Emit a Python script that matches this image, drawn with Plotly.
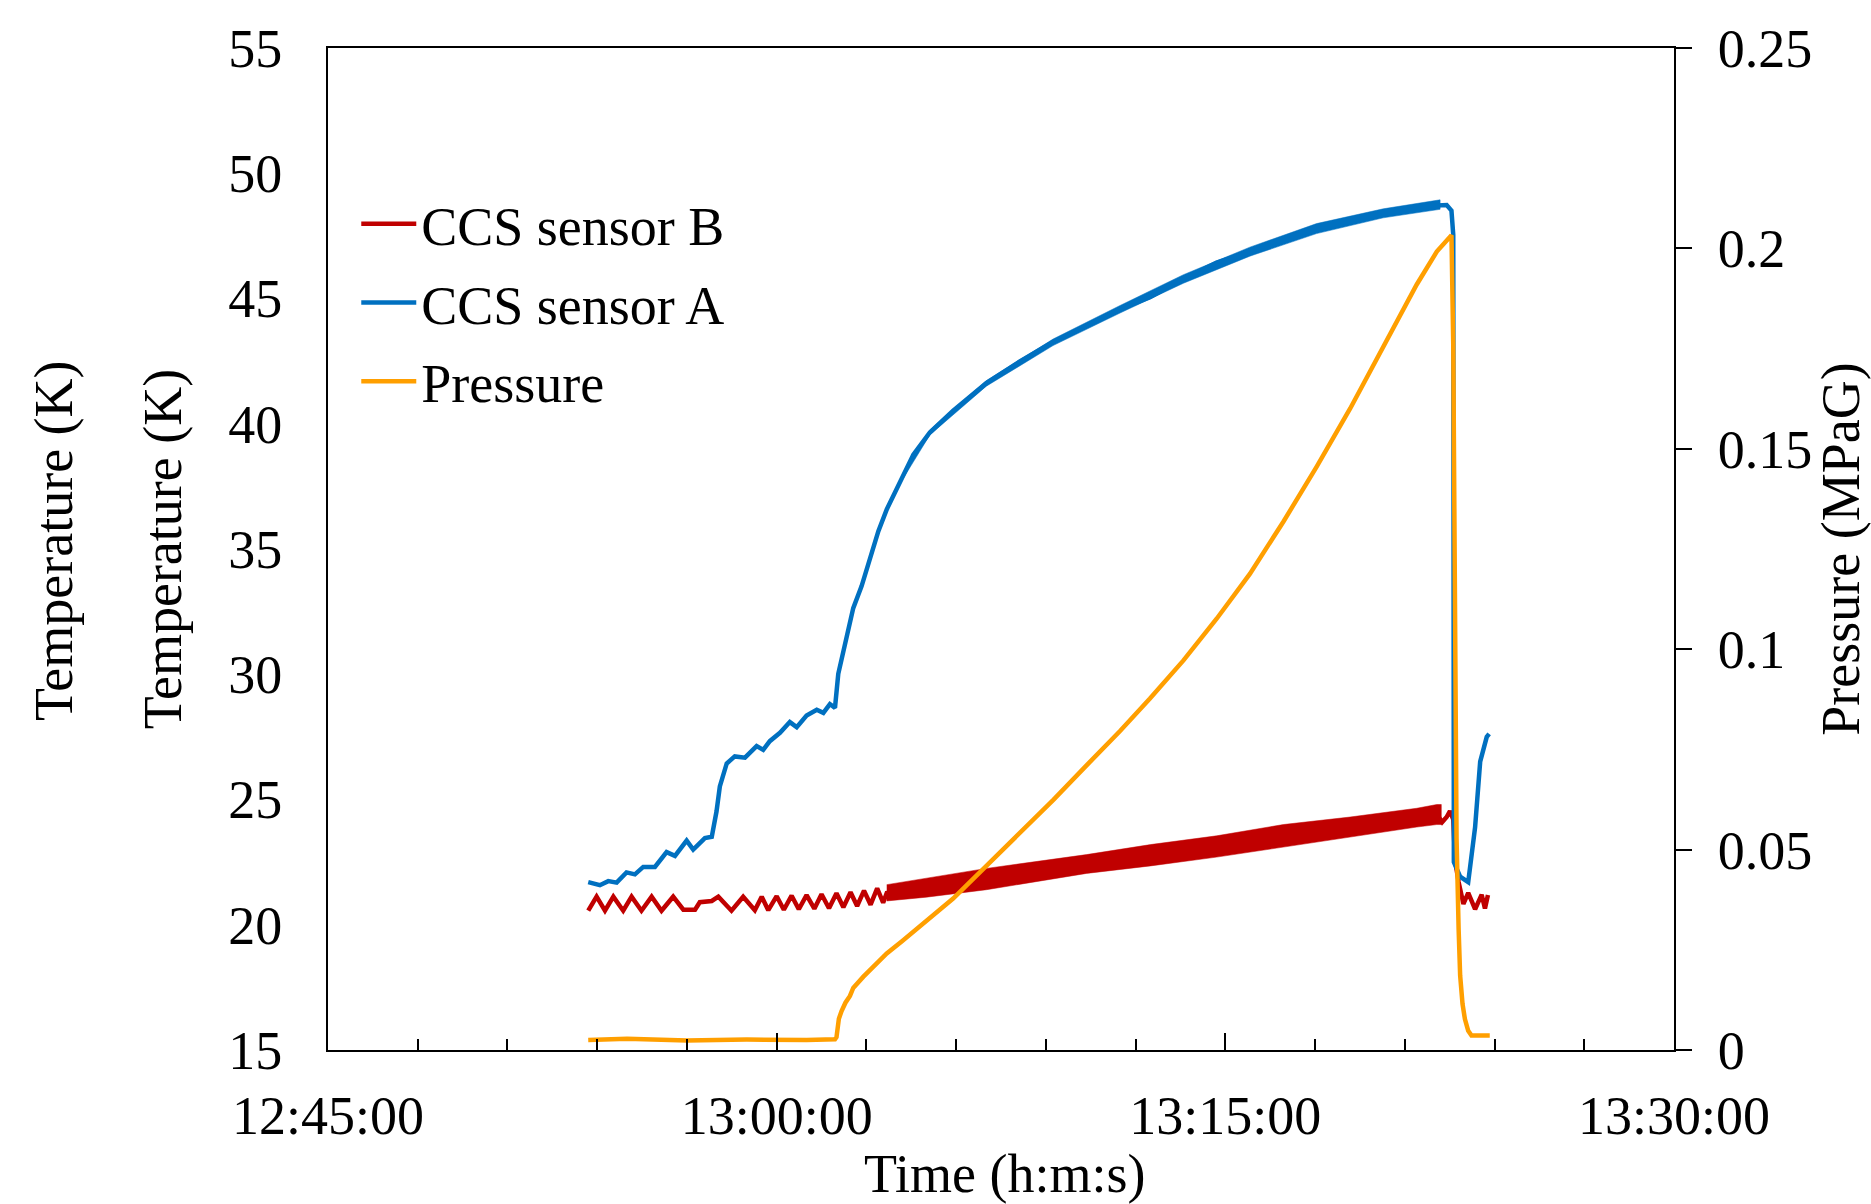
import plotly.graph_objects as go
import pandas as pd

BASE = pd.Timestamp("2021-01-01 12:45:00")
END = BASE + pd.Timedelta(minutes=45)


def to_time(mins):
    return [BASE + pd.Timedelta(minutes=m) for m in mins]


# ---------------- CCS sensor B (red), minutes after 12:45:00 ----------------
b_min = [8.70, 8.98, 9.26, 9.54, 9.87, 10.15, 10.48, 10.82, 11.15, 11.54,
         11.88, 12.27, 12.43, 12.83, 13.05, 13.49, 13.88, 14.27, 14.50, 14.72,
         15.00, 15.24, 15.50, 15.74, 16.00, 16.26, 16.50, 16.75, 17.00, 17.23,
         17.47, 17.69, 17.92, 18.14, 18.36, 18.56,
         18.68, 20.00, 22.02, 25.36, 27.50, 29.71, 31.94, 34.17, 36.40, 37.07,
         37.25, 37.40, 37.51, 37.62, 37.68, 37.80, 37.96, 38.12, 38.35, 38.57,
         38.68, 38.78]
b_temp = [20.56, 21.12, 20.56, 21.12, 20.56, 21.12, 20.56, 21.12, 20.56, 21.12,
          20.60, 20.60, 20.90, 20.95, 21.12, 20.56, 21.12, 20.58, 21.12, 20.58,
          21.14, 20.60, 21.16, 20.62, 21.18, 20.64, 21.22, 20.66, 21.26, 20.70,
          21.30, 20.75, 21.36, 20.80, 21.45, 20.88,
          21.27, 21.47, 21.82, 22.42, 22.77, 23.12, 23.55, 23.90, 24.27, 24.40,
          24.10, 24.30, 24.54, 24.20, 22.57, 21.70, 20.83, 21.27, 20.62, 21.20,
          20.65, 21.19]
# dense oscillation envelope of sensor B
b_band_min = [18.68, 20.00, 22.02, 25.36, 27.50, 29.71, 31.94, 34.17, 36.40, 37.07, 37.22]
b_band_hi = [21.60, 21.85, 22.25, 22.80, 23.20, 23.55, 24.00, 24.30, 24.65, 24.80, 24.80]
b_band_lo = [20.95, 21.10, 21.40, 22.05, 22.35, 22.70, 23.10, 23.50, 23.90, 24.00, 24.00]

# ---------------- CCS sensor A (blue) ----------------
a_min = [8.70, 9.09, 9.37, 9.65, 9.98, 10.26, 10.54, 10.93, 11.32, 11.60,
         11.99, 12.21, 12.60, 12.83, 12.99, 13.10, 13.33, 13.60, 13.94, 14.33,
         14.55, 14.77, 15.11, 15.44, 15.67, 16.00, 16.34, 16.56, 16.78, 16.95,
         17.06, 17.23, 17.56, 17.84, 18.12, 18.40, 18.68, 19.12, 19.57, 20.12,
         20.90, 22.01, 23.13, 24.24, 25.36, 26.48, 27.48, 28.60, 29.71, 30.82,
         31.94, 33.05, 34.17, 35.28, 36.40, 37.18, 37.40, 37.56, 37.62, 37.64,
         37.85, 38.12, 38.35, 38.52, 38.74, 38.82]
a_temp = [21.70, 21.58, 21.74, 21.68, 22.09, 22.01, 22.31, 22.31, 22.90, 22.75,
          23.36, 23.00, 23.46, 23.51, 24.53, 25.52, 26.44, 26.72, 26.67, 27.13,
          26.98, 27.33, 27.66, 28.09, 27.89, 28.35, 28.58, 28.46, 28.81, 28.66,
          30.02, 30.89, 32.64, 33.52, 34.61, 35.71, 36.58, 37.68, 38.77, 39.65,
          40.52, 41.62, 42.49, 43.26, 43.91, 44.57, 45.05, 45.78, 46.43, 46.87,
          47.35, 47.79, 48.18, 48.40, 48.67, 48.75, 48.73, 48.51, 47.53, 22.50,
          21.92, 21.70, 23.89, 26.51, 27.50, 27.62]
a_band_min = [19.12, 20.12, 22.01, 24.24, 26.48, 28.60, 30.82, 33.05, 35.28, 37.18]
a_band_hi = [37.76, 39.75, 41.72, 43.38, 44.72, 45.95, 47.05, 47.99, 48.58, 48.94]
a_band_lo = [37.60, 39.55, 41.50, 43.12, 44.42, 45.61, 46.69, 47.59, 48.22, 48.56]

# ---------------- Pressure (orange), MPaG ----------------
p_min = [8.70, 10.00, 12.00, 14.00, 16.00, 16.95, 17.00, 17.03, 17.08, 17.17,
         17.30, 17.45, 17.56, 17.90, 18.30, 18.68, 19.20, 19.79, 20.90, 22.02,
         23.13, 24.25, 25.36, 26.48, 27.48, 28.60, 29.71, 30.82, 31.94, 33.05,
         34.17, 35.28, 36.40, 37.07, 37.56, 37.62, 37.68, 37.73, 37.80, 37.85,
         37.93, 38.01, 38.12, 38.23, 38.84]
p_val = [0.0025, 0.0028, 0.0024, 0.0026, 0.0025, 0.0027, 0.0032, 0.0055, 0.0078, 0.0097,
         0.0118, 0.0135, 0.0155, 0.0183, 0.0212, 0.0241, 0.0272, 0.0309, 0.0378, 0.0460,
         0.0542, 0.0624, 0.0710, 0.0796, 0.0877, 0.0972, 0.1076, 0.1188, 0.1318, 0.1455,
         0.1600, 0.1756, 0.1910, 0.1992, 0.2033, 0.1760, 0.1076, 0.0528, 0.0300, 0.0186,
         0.0115, 0.0077, 0.0048, 0.0036, 0.0036]

RED = "#C00000"
BLUE = "#0070C0"
ORANGE = "#FF9F00"
FONT = "Liberation Serif"
FS = 54
LW = 4.5

fig = go.Figure()

# sensor B
fig.add_trace(go.Scatter(x=to_time(b_min), y=b_temp, mode="lines", name="CCS sensor B",
                         legendgroup="b", line=dict(color=RED, width=LW)))
fig.add_trace(go.Scatter(x=to_time(b_band_min + b_band_min[::-1]),
                         y=b_band_hi + b_band_lo[::-1], mode="lines", fill="toself",
                         fillcolor=RED, line=dict(color=RED, width=0.5),
                         legendgroup="b", showlegend=False, hoverinfo="skip"))
# sensor A
fig.add_trace(go.Scatter(x=to_time(a_min), y=a_temp, mode="lines", name="CCS sensor A",
                         legendgroup="a", line=dict(color=BLUE, width=LW)))
fig.add_trace(go.Scatter(x=to_time(a_band_min + a_band_min[::-1]),
                         y=a_band_hi + a_band_lo[::-1], mode="lines", fill="toself",
                         fillcolor=BLUE, line=dict(color=BLUE, width=0.5),
                         legendgroup="a", showlegend=False, hoverinfo="skip"))
# pressure
fig.add_trace(go.Scatter(x=to_time(p_min), y=p_val, mode="lines", name="Pressure",
                         legendgroup="p", yaxis="y2", line=dict(color=ORANGE, width=LW)))

fig.update_layout(
    width=1871, height=1204,
    margin=dict(l=328, r=197, t=48, b=154, autoexpand=False),
    paper_bgcolor="white", plot_bgcolor="white",
    font=dict(family=FONT, size=FS, color="black"),
    showlegend=True,
    legend=dict(x=0.021, y=0.866, xanchor="left", yanchor="top",
                bgcolor="rgba(0,0,0,0)", tracegroupgap=5.5, itemwidth=55,
                font=dict(family=FONT, size=FS, color="black")),
    xaxis=dict(type="date", range=[BASE, END], tickformat="%H:%M:%S",
               tick0=BASE, dtick=900000, ticks="inside", ticklen=17, tickwidth=2,
               tickcolor="black", showline=True, linewidth=2, linecolor="black",
               mirror=True, showgrid=False, zeroline=False, ticklabelstandoff=17,
               minor=dict(dtick=180000, tick0=BASE, ticks="inside", ticklen=11,
                          tickwidth=2, tickcolor="black", showgrid=False),
               automargin=False),
    yaxis=dict(range=[15, 55], tick0=15, dtick=5, ticks="", showline=True,
               linewidth=2, linecolor="black", showgrid=False, zeroline=False,
               ticklabelstandoff=33,
               title=dict(text="Temperature (K)", standoff=29,
                          font=dict(family=FONT, size=FS)),
               automargin=False),
    yaxis2=dict(overlaying="y", side="right", range=[0, 0.25], tick0=0, dtick=0.05,
                ticks="outside", ticklen=16, tickwidth=2, tickcolor="black",
                showline=True, linewidth=2, linecolor="black", showgrid=False,
                zeroline=False, ticklabelstandoff=15,
                title=dict(text="Pressure (MPaG)", standoff=28,
                           font=dict(family=FONT, size=FS)),
                automargin=False),
    annotations=[
        dict(text="Temperature (K)", xref="paper", yref="paper",
             x=-0.2036, y=0.509, xanchor="center", yanchor="middle",
             textangle=-90, showarrow=False,
             font=dict(family=FONT, size=FS, color="black")),
        dict(text="Time (h:m:s)", xref="paper", yref="paper",
             x=0.503, y=-0.1235, xanchor="center", yanchor="middle",
             showarrow=False, font=dict(family=FONT, size=FS, color="black")),
    ],
)

fig.write_html("out.html")
